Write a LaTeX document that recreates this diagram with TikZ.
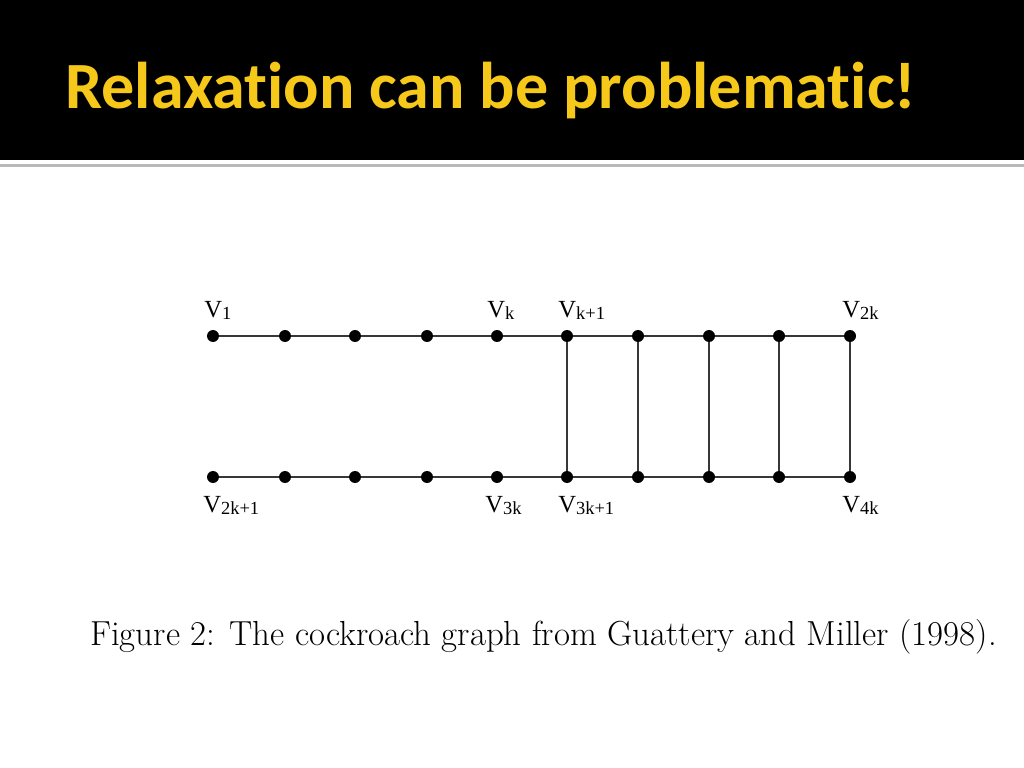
\documentclass[tikz,border=0pt]{standalone}
\usepackage{fontspec}
\usepackage{xcolor}
\newfontfamily\titlefont[Ligatures=NoCommon]{Carlito}
\newfontfamily\vfont{Liberation Serif}
\definecolor{titlegold}{RGB}{245,200,25}
\definecolor{edgegray}{RGB}{55,55,55}
\newcommand{\vname}[1]{V\raisebox{-0.25ex}{\fontsize{10.5}{11}\selectfont #1}}

\begin{document}
\begin{tikzpicture}[
        dot/.style={circle,fill=black,inner sep=0pt,minimum size=0.24cm},
        vlab/.style={anchor=base west,inner sep=0pt,font=\vfont\fontsize{14}{15}\selectfont},
        edge/.style={draw=edgegray,line width=0.8pt}]
        \useasboundingbox (0,0) rectangle (20.48,-15.36);
        % title bar
        \fill[black] (0,0) rectangle (20.48,-3.2);
        \draw[gray!55,line width=0.06cm] (0,-3.32) -- (20.48,-3.32);
        \node[anchor=base west,inner sep=0pt,text=titlegold,font=\titlefont\bfseries\fontsize{37.6}{40}\selectfont] (title) at (1.30,-2.18) {Relaxation can be problematic!};
        % top row
        \node[dot](t1) at (4.26,-6.72) {};
        \node[dot](t2) at (5.70,-6.72) {};
        \node[dot](t3) at (7.10,-6.72) {};
        \node[dot](t4) at (8.54,-6.72) {};
        \node[dot](t5) at (9.94,-6.72) {};
        \node[dot](t6) at (11.34,-6.72) {};
        \node[dot](t7) at (12.76,-6.72) {};
        \node[dot](t8) at (14.18,-6.72) {};
        \node[dot](t9) at (15.58,-6.72) {};
        \node[dot](t10) at (17.00,-6.72) {};
        % bottom row
        \node[dot](b1) at (4.26,-9.54) {};
        \node[dot](b2) at (5.70,-9.54) {};
        \node[dot](b3) at (7.10,-9.54) {};
        \node[dot](b4) at (8.54,-9.54) {};
        \node[dot](b5) at (9.94,-9.54) {};
        \node[dot](b6) at (11.34,-9.54) {};
        \node[dot](b7) at (12.76,-9.54) {};
        \node[dot](b8) at (14.18,-9.54) {};
        \node[dot](b9) at (15.58,-9.54) {};
        \node[dot](b10) at (17.00,-9.54) {};
        % labels
        \node[vlab](l1) at (4.08,-6.34) {\vname{1}};
        \node[vlab](lk) at (9.74,-6.34) {\vname{k}};
        \node[vlab](lk1) at (11.16,-6.34) {\vname{k+1}};
        \node[vlab](l2k) at (16.84,-6.34) {\vname{2k}};
        \node[vlab](l2k1) at (4.06,-10.24) {\vname{2k+1}};
        \node[vlab](l3k) at (9.70,-10.24) {\vname{3k}};
        \node[vlab](l3k1) at (11.16,-10.24) {\vname{3k+1}};
        \node[vlab](l4k) at (16.84,-10.24) {\vname{4k}};
        % edges
        \draw[edge](t1)--(t2)--(t3)--(t4)--(t5)--(t6)--(t7)--(t8)--(t9)--(t10);
        \draw[edge](b1)--(b2)--(b3)--(b4)--(b5)--(b6)--(b7)--(b8)--(b9)--(b10);
        \draw[edge](t6)--(b6);
        \draw[edge](t7)--(b7);
        \draw[edge](t8)--(b8);
        \draw[edge](t9)--(b9);
        \draw[edge](t10)--(b10);
        % caption
        \node[anchor=base west,inner sep=0pt,font=\fontsize{19.8}{22}\selectfont] (caption) at (1.80,-12.90) {Figure 2: The cockroach graph from Guattery and Miller (1998).};
\end{tikzpicture}
\end{document}
